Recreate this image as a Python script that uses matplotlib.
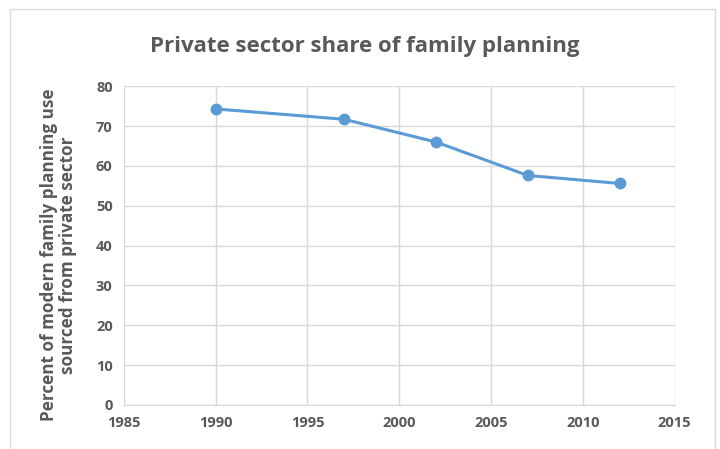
import matplotlib
matplotlib.use('Agg')
from matplotlib import pyplot as plt
from matplotlib.patches import Rectangle

years = [1990, 1997, 2002, 2007, 2012]
share = [74.3, 71.7, 66.0, 57.6, 55.6]
xticks = [1985, 1990, 1995, 2000, 2005, 2010, 2015]
yticks = [0, 10, 20, 30, 40, 50, 60, 70, 80]

grey = '#595959'
plt.rcParams['font.family'] = ['Open Sans', 'DejaVu Sans']

fig = plt.figure(figsize=(7.2, 4.49), dpi=100)
ax = fig.add_axes([0.172, 0.098, 0.765, 0.71])

# chart border like the spreadsheet frame
fig.patches.append(Rectangle((10/720, -0.05), 705/720, 1.05 - 9/449, transform=fig.transFigure,
                             fill=False, edgecolor='#D9D9D9', linewidth=1))

ax.plot(years, share, color='#5B9BD5', linewidth=2.2, marker='o', markersize=7.5)
ax.set_xlim(1985, 2015)
ax.set_ylim(0, 80)
ax.set_xticks(xticks)
ax.set_yticks(yticks)
ax.grid(True, color='#D9D9D9', linewidth=1)
ax.set_axisbelow(True)
for s in ['top', 'right', 'left']:
    ax.spines[s].set_visible(False)
ax.spines['bottom'].set_color('#D9D9D9')
ax.tick_params(length=0, colors=grey, labelsize=10.5, pad=8)
for lab in ax.get_xticklabels() + ax.get_yticklabels():
    lab.set_fontweight('bold')

ax.set_ylabel('Percent of modern family planning use\nsourced from private sector',
              color=grey, fontsize=12.3, fontweight='bold', linespacing=1.05)
ax.yaxis.set_label_coords(-0.085, 0.47)
fig.text(0.507, 0.897, 'Private sector share of family planning', ha='center', va='center',
         color=grey, fontsize=16, fontweight='bold')

plt.savefig('out.png', dpi=100)
plt.close()
